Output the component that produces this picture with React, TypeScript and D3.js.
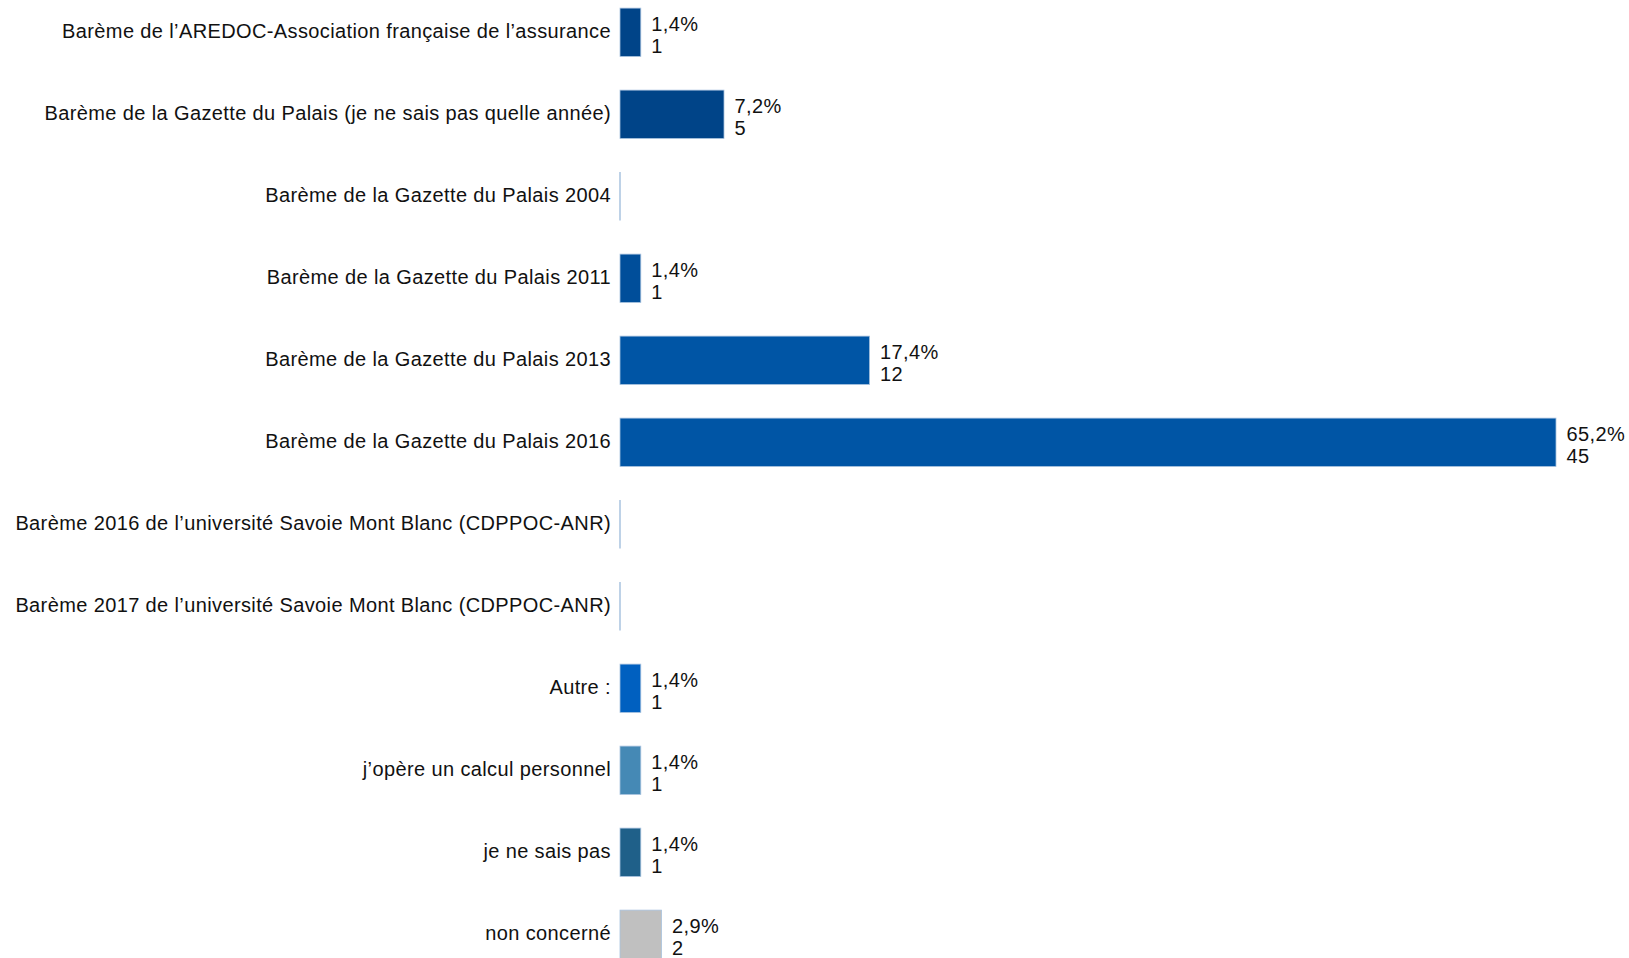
import React from "react";
import * as d3 from "d3";

const categories = [
  "Barème de l’AREDOC-Association française de l’assurance",
  "Barème de la Gazette du Palais (je ne sais pas quelle année)",
  "Barème de la Gazette du Palais 2004",
  "Barème de la Gazette du Palais 2011",
  "Barème de la Gazette du Palais 2013",
  "Barème de la Gazette du Palais 2016",
  "Barème 2016 de l’université Savoie Mont Blanc (CDPPOC-ANR)",
  "Barème 2017 de l’université Savoie Mont Blanc (CDPPOC-ANR)",
  "Autre :",
  "j’opère un calcul personnel",
  "je ne sais pas",
  "non concerné",
];
const counts = [1, 5, 0, 1, 12, 45, 0, 0, 1, 1, 1, 2];
const percents = ["1,4%", "7,2%", "", "1,4%", "17,4%", "65,2%", "", "", "1,4%", "1,4%", "1,4%", "2,9%"];
const colors = [
  "#004488", "#004488", "#004e9a", "#004e9a", "#0055a5", "#0055a5",
  "#0055a5", "#0055a5", "#0060c0", "#4589b5", "#1f6089", "#c0c0c0",
];

const W = 1629;
const H = 958;
const x0 = 620;

export default function App() {
  const x = d3.scaleLinear().domain([0, 45]).range([x0, x0 + 936]);
  const y = d3
    .scaleBand<number>()
    .domain(d3.range(categories.length))
    .range([-8.7, -8.7 + 82 * categories.length])
    .paddingInner(0.41)
    .paddingOuter(0.205);
  const bw = y.bandwidth();
  return (
    <svg
      width={W}
      height={H}
      style={{ position: "absolute", left: 0, top: 0, background: "#fff" }}
      fontFamily="'Liberation Sans', Arial, sans-serif"
      fontSize={20}
      letterSpacing={0.38}
    >
      {categories.map((c, i) => {
        const yt = y(i)!;
        const cy = yt + bw / 2;
        const v = counts[i];
        const xe = x(v);
        return (
          <g key={i}>
            <text x={611} y={cy + 6} textAnchor="end" fill="#111">
              {c}
            </text>
            {v > 0 ? (
              <rect
                x={x0}
                y={yt}
                width={xe - x0}
                height={bw}
                fill={colors[i]}
                stroke="#a9c3df"
                strokeWidth={0.8}
              />
            ) : (
              <line x1={x0} x2={x0} y1={yt} y2={yt + bw} stroke="#a9c3df" strokeWidth={1.5} />
            )}
            {v > 0 && (
              <text x={xe + 10.5} fill="#111">
                <tspan x={xe + 10.5} y={cy - 1}>
                  {percents[i]}
                </tspan>
                <tspan x={xe + 10.5} y={cy + 20.5}>
                  {v}
                </tspan>
              </text>
            )}
          </g>
        );
      })}
    </svg>
  );
}
